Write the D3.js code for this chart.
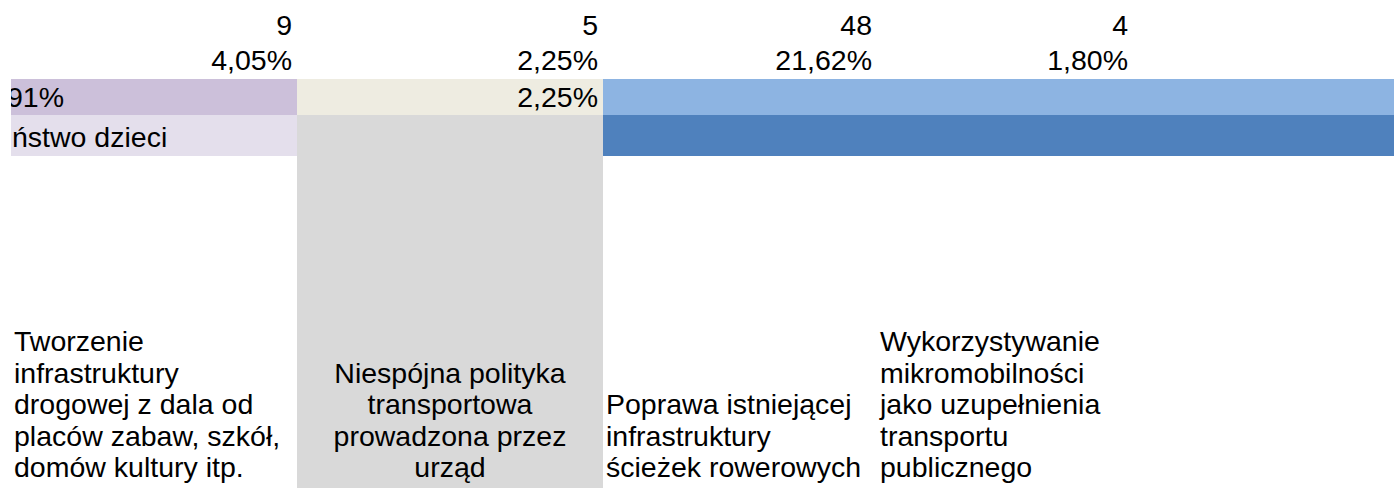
<!DOCTYPE html>
<html>
<head>
<meta charset="utf-8">
<script src="https://cdn.jsdelivr.net/npm/d3@7"></script>
<style>
  html, body { margin: 0; padding: 0; background: #fff; }
  svg { display: block; }
  text { font-family: "Liberation Sans", Arial, sans-serif; font-size: 28.5px; fill: #000; }
</style>
</head>
<body>
<svg id="chart" width="1394" height="488"></svg>
<script>
// values
const categories = [
    "Tworzenie infrastruktury drogowej z dala od placów zabaw, szkół, domów kultury itp.",
    "Niespójna polityka transportowa prowadzona przez urząd",
    "Poprawa istniejącej infrastruktury ścieżek rowerowych",
    "Wykorzystywanie mikromobilności jako uzupełnienia transportu publicznego"
];
// wrapped lines as they show in the cells
const categoryLines = [
    ["Tworzenie", "infrastruktury", "drogowej z dala od", "placów zabaw, szkół,", "domów kultury itp."],
    ["Niespójna polityka", "transportowa", "prowadzona przez", "urząd"],
    ["Poprawa istniejącej", "infrastruktury", "ścieżek rowerowych"],
    ["Wykorzystywanie", "mikromobilności", "jako uzupełnienia", "transportu", "publicznego"]
];
const counts = [9, 5, 48, 4];
const totalAnswers = 222;
const bandLabels = ["91%", "2,25%", "", ""];
const subLabels = ["ństwo dzieci", "", "", ""];

document.addEventListener("DOMContentLoaded", () => {
    const W = 1394, H = 488;
    const svg = d3.select("#chart");

    // column edges of the sheet (last column runs off the right side)
    const colEdges = [11, 297, 603, 877, 1133];
    const x = d3.scaleOrdinal().domain(d3.range(categories.length)).range(colEdges);
    const colRight = i => (i + 1 < colEdges.length ? colEdges[i + 1] : W);

    // rows: count, percent, band, sub band, category text
    const y = d3.scaleOrdinal()
        .domain(["count", "pct", "band", "sub", "cat"])
        .range([0, 40, 79, 115, 156]);

    const pctFmt = v => (v / totalAnswers * 100).toFixed(2).replace(".", ",") + "%";

    svg.append("defs").append("clipPath").attr("id", "sheet-clip")
        .append("rect").attr("x", 11).attr("y", 0).attr("width", W - 11).attr("height", H);

    const cells = svg.append("g").attr("clip-path", "url(#sheet-clip)");

    // band row fills
    const bandFill = ["#CCC0DA", "#EEECE1", "#8DB4E2"];
    const subFill = ["#E4DFEC", "#D9D9D9", "#4F81BD"];

    [0, 1, 2].forEach(i => {
        const x0 = x(i);
        const x1 = i === 2 ? W : colRight(i);
        cells.append("rect")
            .attr("x", x0).attr("y", y("band"))
            .attr("width", x1 - x0).attr("height", y("sub") - y("band"))
            .attr("fill", bandFill[i]);
        cells.append("rect")
            .attr("x", x0).attr("y", y("sub"))
            .attr("width", x1 - x0)
            .attr("height", (i === 1 ? H : y("cat")) - y("sub"))
            .attr("fill", subFill[i]);
    });

    // counts and shares, right aligned in each column
    counts.forEach((c, i) => {
        const rx = colRight(i) - 5;
        cells.append("text").attr("x", rx).attr("y", 35)
            .attr("text-anchor", "end").text(c);
        cells.append("text").attr("x", rx).attr("y", 70)
            .attr("text-anchor", "end").text(pctFmt(c));
    });

    // band labels
    bandLabels.forEach((t, i) => {
        if (!t) return;
        if (i === 0) {
            cells.append("text").attr("x", 7).attr("y", 107).text(t);
        } else {
            cells.append("text").attr("x", colRight(i) - 5).attr("y", 107)
                .attr("text-anchor", "end").text(t);
        }
    });
    subLabels.forEach((t, i) => {
        if (!t) return;
        cells.append("text").attr("x", 12).attr("y", 147).text(t);
    });

    // category cells, bottom aligned, wrapped
    const lineH = 31.5, lastBase = 477;
    categoryLines.forEach((lines, i) => {
        const centered = i === 1;
        const tx = centered ? (x(i) + colRight(i)) / 2 : x(i) + 3;
        const t = cells.append("text")
            .attr("text-anchor", centered ? "middle" : "start");
        lines.forEach((ln, k) => {
            t.append("tspan")
                .attr("x", tx)
                .attr("y", lastBase - (lines.length - 1 - k) * lineH)
                .text(ln);
        });
    });
});
</script>
</body>
</html>
